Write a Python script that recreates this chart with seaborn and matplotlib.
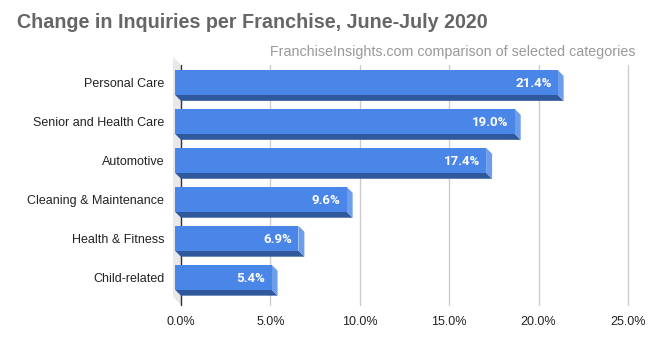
import matplotlib
matplotlib.use("Agg")
import matplotlib.pyplot as plt
from matplotlib.patches import Polygon
from matplotlib.transforms import ScaledTranslation
import seaborn as sns
import pandas as pd

categories = ["Personal Care", "Senior and Health Care", "Automotive",
              "Cleaning & Maintenance", "Health & Fitness", "Child-related"]
values = [21.4, 19.0, 17.4, 9.6, 6.9, 5.4]
value_labels = ["21.4%", "19.0%", "17.4%", "9.6%", "6.9%", "5.4%"]
x_ticks = [0, 5, 10, 15, 20, 25]
x_tick_labels = ["0.0%", "5.0%", "10.0%", "15.0%", "20.0%", "25.0%"]

title = "Change in Inquiries per Franchise, June-July 2020"
subtitle = "FranchiseInsights.com comparison of selected categories"

FRONT = "#4a86e8"
SIDE = "#6d9eeb"
BOTTOM = "#30589c"
WALL = "#e8e8e8"

sns.set_theme(style="white")
plt.rcParams["font.family"] = ["Liberation Sans", "DejaVu Sans"]

W, H, DPI = 650, 337, 100
fig = plt.figure(figsize=(W / DPI, H / DPI), dpi=DPI)
ax = fig.add_axes([181 / W, 1 - 305 / H, (628 - 181) / W, (305 - 65) / H])

df = pd.DataFrame({"category": categories, "value": values})
sns.barplot(data=df, x="value", y="category", orient="h", color=FRONT,
            width=0.64, saturation=1, ax=ax, zorder=3)

ax.set_xlim(0, 25)
ax.set_ylim(5.56, -0.6)
ax.set_xticks(x_ticks)
ax.set_xticklabels(x_tick_labels)
ax.set_xlabel("")
ax.set_ylabel("")

# depth of the extruded boxes, in pixels
DEPTH = 6
WALL_DEPTH = 8


def shift(x, y, dx_px, dy_px):
    """Move a data point by a pixel offset (dy positive = up)."""
    px, py = ax.transData.transform((x, y))
    return ax.transData.inverted().transform((px + dx_px, py + dy_px))


# the left wall behind the bars
y_top, y_bot = -0.6, 5.56
wall = [shift(0, y_top, 0, 0), shift(0, y_bot, 0, 0),
        shift(0, y_bot, -WALL_DEPTH, WALL_DEPTH),
        shift(0, y_top, -WALL_DEPTH, WALL_DEPTH)]
ax.add_patch(Polygon(wall, closed=True, facecolor=WALL, edgecolor="none",
                     zorder=1, clip_on=False))

# gridlines and the zero axis
for t in x_ticks[1:]:
    ax.plot([t, t], [y_top, y_bot], color="#cccccc", lw=1, zorder=0.5,
            clip_on=False)
ax.plot([0, 0], [y_top, y_bot], color="#333333", lw=1, zorder=2,
        clip_on=False)

for patch, lab in zip(ax.patches, value_labels):
    x0, y0 = patch.get_x(), patch.get_y()
    w, h = patch.get_width(), patch.get_height()
    x1, y1 = x0 + w, y0 + h  # y1 is the lower edge (inverted axis)
    # bottom face
    bottom = [shift(x0, y1, -DEPTH, DEPTH), shift(x1, y1, -DEPTH, DEPTH),
              shift(x1, y1, 0, 0), shift(x0, y1, 0, 0)]
    ax.add_patch(Polygon(bottom, closed=True, facecolor=BOTTOM,
                         edgecolor="none", zorder=2.5, clip_on=False))
    # right side face
    side = [shift(x1, y0, -DEPTH, DEPTH), shift(x1, y0, 0, 0),
            shift(x1, y1, 0, 0), shift(x1, y1, -DEPTH, DEPTH)]
    ax.add_patch(Polygon(side, closed=True, facecolor=SIDE,
                         edgecolor="none", zorder=2.5, clip_on=False))
    # front face moved up-left by the depth
    nx, ny = shift(x0, y0, -DEPTH, DEPTH)
    patch.set_x(nx)
    patch.set_y(ny)
    patch.set_edgecolor("none")
    patch.set_clip_on(False)
    fx, fy = shift(x1, y0 + h / 2, -DEPTH - 6, DEPTH)
    ax.text(fx, fy, lab, ha="right", va="center_baseline", color="white",
            fontsize=9.5, fontweight="bold", zorder=5,
            family=["Roboto", "DejaVu Sans"])

for s in ax.spines.values():
    s.set_visible(False)
ax.tick_params(axis="both", length=0, labelsize=9, colors="#222222")
ax.tick_params(axis="y", pad=12)
ax.tick_params(axis="x", pad=8)
ax.grid(False)

# category labels sit level with the front faces
for lbl in ax.get_yticklabels():
    lbl.set_transform(lbl.get_transform() +
                      ScaledTranslation(0, DEPTH / DPI, fig.dpi_scale_trans))

fig.text(17 / W, 1 - 23 / H, title, ha="left", va="center", fontsize=14.2,
         fontweight="bold", color="#666666")
fig.text(636 / W, 1 - 52 / H, subtitle, ha="right", va="center",
         fontsize=10.3, color="#999999")

fig.savefig("out.png", dpi=DPI)
